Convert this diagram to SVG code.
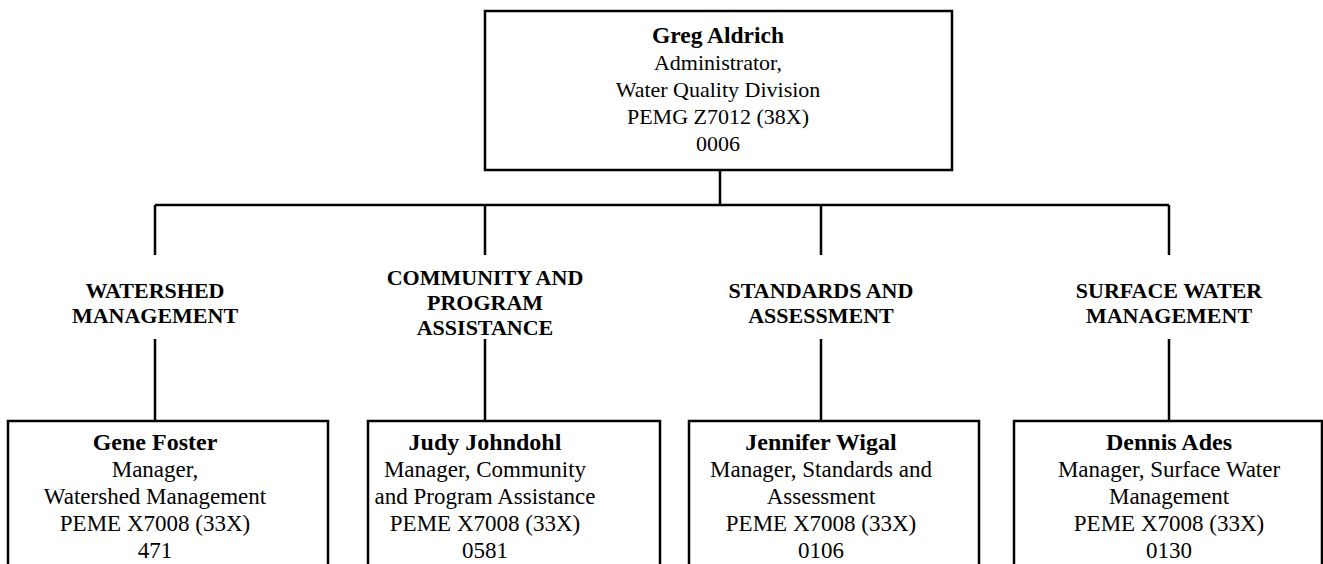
<svg xmlns="http://www.w3.org/2000/svg" width="1323" height="564" viewBox="0 0 1323 564">
<style>
.box{fill:#fff;stroke:#000;stroke-width:2.5}
.ln{stroke:#000;stroke-width:2.5;fill:none}
text{font-family:"Liberation Serif","Times New Roman",serif;font-size:22px;fill:#000;text-anchor:middle}
.low text{font-size:23px}
.b{font-weight:bold;font-size:23.5px}
.low .b{font-size:24px}
.lab{font-weight:bold;font-size:22px}
</style>
<rect width="1323" height="564" fill="#fff"/>
<g id="connectors">
<path class="ln" d="M720 170V205M155 205H1169M155 205V255M485 205V255M821 205V255M1169 205V255"/>
<path class="ln" d="M155 339V421M485 339V421M821 339V421M1169 339V421"/>
</g>
<g id="n-aldrich">
<rect class="box" x="485" y="11" width="467" height="159"/>
<text x="718" y="43" class="b">Greg Aldrich</text>
<text x="718" y="70">Administrator,</text>
<text x="718" y="97">Water Quality Division</text>
<text x="718" y="124">PEMG Z7012 (38X)</text>
<text x="718" y="151">0006</text>
</g>
<g id="l-watershed">
<text x="155" y="298" class="lab">WATERSHED</text>
<text x="155" y="323" class="lab">MANAGEMENT</text>
</g>
<g id="l-community">
<text x="485" y="285" class="lab">COMMUNITY AND</text>
<text x="485" y="310" class="lab">PROGRAM</text>
<text x="485" y="335" class="lab">ASSISTANCE</text>
</g>
<g id="l-standards">
<text x="821" y="298" class="lab">STANDARDS AND</text>
<text x="821" y="323" class="lab">ASSESSMENT</text>
</g>
<g id="l-surface">
<text x="1169" y="298" class="lab">SURFACE WATER</text>
<text x="1169" y="323" class="lab">MANAGEMENT</text>
</g>
<g id="n-foster" class="low">
<rect class="box" x="8" y="421" width="320" height="200"/>
<text x="155" y="450" class="b">Gene Foster</text>
<text x="155" y="477">Manager,</text>
<text x="155" y="504">Watershed Management</text>
<text x="155" y="531">PEME X7008 (33X)</text>
<text x="155" y="558">471</text>
</g>
<g id="n-johndohl" class="low">
<rect class="box" x="368" y="421" width="292" height="200"/>
<text x="485" y="450" class="b">Judy Johndohl</text>
<text x="485" y="477">Manager, Community</text>
<text x="485" y="504">and Program Assistance</text>
<text x="485" y="531">PEME X7008 (33X)</text>
<text x="485" y="558">0581</text>
</g>
<g id="n-wigal" class="low">
<rect class="box" x="689" y="421" width="290" height="200"/>
<text x="821" y="450" class="b">Jennifer Wigal</text>
<text x="821" y="477">Manager, Standards and</text>
<text x="821" y="504">Assessment</text>
<text x="821" y="531">PEME X7008 (33X)</text>
<text x="821" y="558">0106</text>
</g>
<g id="n-ades" class="low">
<rect class="box" x="1014" y="421" width="308" height="200"/>
<text x="1169" y="450" class="b">Dennis Ades</text>
<text x="1169" y="477">Manager, Surface Water</text>
<text x="1169" y="504">Management</text>
<text x="1169" y="531">PEME X7008 (33X)</text>
<text x="1169" y="558">0130</text>
</g>
</svg>
